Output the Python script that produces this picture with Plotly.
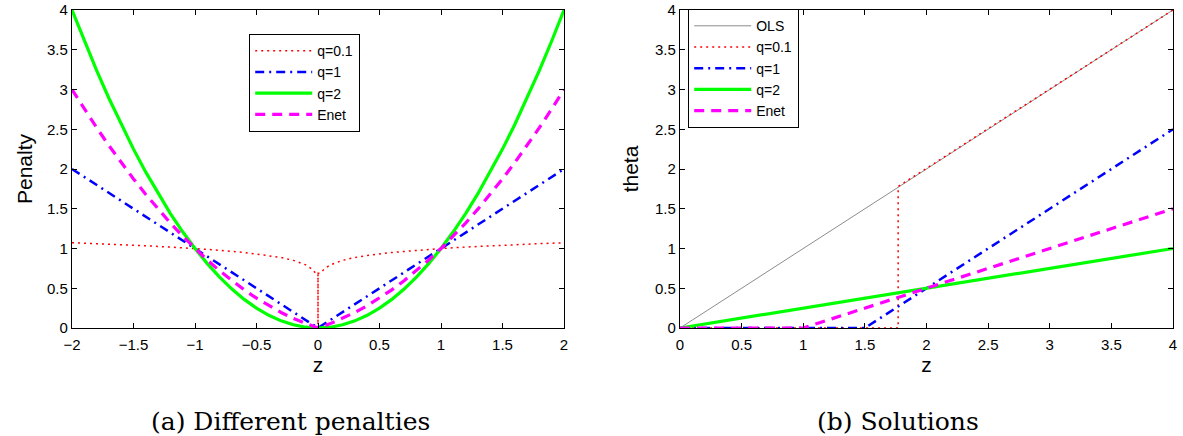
import plotly.graph_objects as go

# ---------- data: left panel (penalties) ----------
z_grid = [-2.0, -1.9, -1.8, -1.7, -1.6, -1.5, -1.4, -1.3, -1.2, -1.1, -1.0,
          -0.9, -0.8, -0.7, -0.6, -0.5, -0.4, -0.3, -0.2, -0.1, 0.0,
          0.1, 0.2, 0.3, 0.4, 0.5, 0.6, 0.7, 0.8, 0.9, 1.0,
          1.1, 1.2, 1.3, 1.4, 1.5, 1.6, 1.7, 1.8, 1.9, 2.0]
pen_q1 = [2.0, 1.9, 1.8, 1.7, 1.6, 1.5, 1.4, 1.3, 1.2, 1.1, 1.0,
          0.9, 0.8, 0.7, 0.6, 0.5, 0.4, 0.3, 0.2, 0.1, 0.0,
          0.1, 0.2, 0.3, 0.4, 0.5, 0.6, 0.7, 0.8, 0.9, 1.0,
          1.1, 1.2, 1.3, 1.4, 1.5, 1.6, 1.7, 1.8, 1.9, 2.0]
pen_q2 = [4.0, 3.61, 3.24, 2.89, 2.56, 2.25, 1.96, 1.69, 1.44, 1.21, 1.0,
          0.81, 0.64, 0.49, 0.36, 0.25, 0.16, 0.09, 0.04, 0.01, 0.0,
          0.01, 0.04, 0.09, 0.16, 0.25, 0.36, 0.49, 0.64, 0.81, 1.0,
          1.21, 1.44, 1.69, 1.96, 2.25, 2.56, 2.89, 3.24, 3.61, 4.0]
pen_enet = [3.0, 2.755, 2.52, 2.295, 2.08, 1.875, 1.68, 1.495, 1.32, 1.155, 1.0,
            0.855, 0.72, 0.595, 0.48, 0.375, 0.28, 0.195, 0.12, 0.055, 0.0,
            0.055, 0.12, 0.195, 0.28, 0.375, 0.48, 0.595, 0.72, 0.855, 1.0,
            1.155, 1.32, 1.495, 1.68, 1.875, 2.08, 2.295, 2.52, 2.755, 3.0]
z_q01 = [-2.0, -1.8, -1.6, -1.4, -1.2, -1.0, -0.8, -0.6, -0.4, -0.3, -0.2, -0.1,
         -0.05, -0.02, 0.0, 0.0, 0.0, 0.02, 0.05, 0.1, 0.2, 0.3, 0.4, 0.6, 0.8,
         1.0, 1.2, 1.4, 1.6, 1.8, 2.0]
pen_q01 = [1.072, 1.061, 1.048, 1.034, 1.018, 1.0, 0.978, 0.950, 0.912, 0.887, 0.851, 0.794,
           0.741, 0.690, 0.690, 0.0, 0.690, 0.690, 0.741, 0.794, 0.851, 0.887, 0.912, 0.950, 0.978,
           1.0, 1.018, 1.034, 1.048, 1.061, 1.072]

# ---------- data: right panel (solutions) ----------
z_ols = [0.0, 4.0]
th_ols = [0.0, 4.0]
z_sq01 = [0.0, 1.77, 1.77, 4.0]
th_sq01 = [0.0, 0.0, 1.78, 4.0]
z_sq1 = [0.0, 1.5, 4.0]
th_sq1 = [0.0, 0.0, 2.5]
z_sq2 = [0.0, 4.0]
th_sq2 = [0.0, 1.0]
z_senet = [0.0, 1.0, 4.0]
th_senet = [0.0, 0.0, 1.5]

left_ticks = [-2, -1.5, -1, -0.5, 0, 0.5, 1, 1.5, 2]
right_ticks = [0, 0.5, 1, 1.5, 2, 2.5, 3, 3.5, 4]
y_ticks = [0, 0.5, 1, 1.5, 2, 2.5, 3, 3.5, 4]

RED = "rgb(255,0,0)"
BLUE = "rgb(0,0,255)"
GREEN = "rgb(0,255,0)"
MAG = "rgb(255,0,255)"
GRAY = "rgb(140,140,140)"
DOT = "2px,4px"
DASHDOT = "9px,5px,2px,5px"
DASH = "10px,7px"

fig = go.Figure()
# left
fig.add_trace(go.Scatter(x=z_q01, y=pen_q01, name="q=0.1", mode="lines",
                         line=dict(color=RED, width=1.5, dash=DOT), xaxis="x", yaxis="y", legend="legend"))
fig.add_trace(go.Scatter(x=z_grid, y=pen_q1, name="q=1", mode="lines",
                         line=dict(color=BLUE, width=2.5, dash=DASHDOT), xaxis="x", yaxis="y", legend="legend"))
fig.add_trace(go.Scatter(x=z_grid, y=pen_q2, name="q=2", mode="lines",
                         line=dict(color=GREEN, width=3.2), xaxis="x", yaxis="y", legend="legend"))
fig.add_trace(go.Scatter(x=z_grid, y=pen_enet, name="Enet", mode="lines",
                         line=dict(color=MAG, width=3.2, dash=DASH), xaxis="x", yaxis="y", legend="legend"))
# right
fig.add_trace(go.Scatter(x=z_ols, y=th_ols, name="OLS", mode="lines",
                         line=dict(color=GRAY, width=1), xaxis="x2", yaxis="y2", legend="legend2"))
fig.add_trace(go.Scatter(x=z_sq01, y=th_sq01, name="q=0.1", mode="lines",
                         line=dict(color=RED, width=1.5, dash=DOT), xaxis="x2", yaxis="y2", legend="legend2"))
fig.add_trace(go.Scatter(x=z_sq1, y=th_sq1, name="q=1", mode="lines",
                         line=dict(color=BLUE, width=2.5, dash=DASHDOT), xaxis="x2", yaxis="y2", legend="legend2"))
fig.add_trace(go.Scatter(x=z_sq2, y=th_sq2, name="q=2", mode="lines",
                         line=dict(color=GREEN, width=3.2), xaxis="x2", yaxis="y2", legend="legend2"))
fig.add_trace(go.Scatter(x=z_senet, y=th_senet, name="Enet", mode="lines",
                         line=dict(color=MAG, width=3.2, dash=DASH), xaxis="x2", yaxis="y2", legend="legend2"))

axis_common = dict(showline=True, linecolor="black", linewidth=1.2, mirror="ticks",
                   ticks="inside", ticklen=5, tickcolor="black", showgrid=False, zeroline=False,
                   automargin=False,
                   tickfont=dict(family="Liberation Sans, Arial", size=15, color="black"))

W, H = 1183, 436
ydom = [(H - 328) / H, (H - 10) / H]
fig.update_layout(
    width=W, height=H, margin=dict(l=0, r=0, t=0, b=0),
    paper_bgcolor="white", plot_bgcolor="white",
    font=dict(family="Liberation Sans, Arial", color="black"),
    xaxis=dict(domain=[72 / W, 564 / W], range=[-2, 2], tickvals=left_ticks, ticklabelstandoff=3,
               title=dict(text="z", font=dict(size=21), standoff=2), anchor="y", **axis_common),
    yaxis=dict(domain=ydom, range=[0, 4], tickvals=y_ticks,
               title=dict(text="Penalty", font=dict(size=21), standoff=8), anchor="x", **axis_common),
    xaxis2=dict(domain=[680 / W, 1173 / W], range=[0, 4], tickvals=right_ticks, ticklabelstandoff=3,
                title=dict(text="z", font=dict(size=21), standoff=2), anchor="y2", **axis_common),
    yaxis2=dict(domain=ydom, range=[0, 4], tickvals=y_ticks,
                title=dict(text="theta", font=dict(size=21), standoff=10), anchor="x2", **axis_common),
    legend=dict(x=249 / W, y=(H - 34) / H, xanchor="left", yanchor="top",
                bordercolor="black", borderwidth=1.2, bgcolor="white",
                font=dict(size=14), itemwidth=57, tracegroupgap=0),
    legend2=dict(x=688 / W, y=(H - 9) / H, xanchor="left", yanchor="top",
                 bordercolor="black", borderwidth=1.2, bgcolor="white",
                 font=dict(size=14), itemwidth=57, tracegroupgap=0),
    annotations=[
        dict(text="(a) Different penalties", x=290 / W, y=(H - 421) / H, xref="paper", yref="paper",
             showarrow=False, font=dict(family="DejaVu Serif", size=25, color="black"), xanchor="center", yanchor="middle"),
        dict(text="(b) Solutions", x=898 / W, y=(H - 421) / H, xref="paper", yref="paper",
             showarrow=False, font=dict(family="DejaVu Serif", size=25, color="black"), xanchor="center", yanchor="middle"),
    ],
)

fig.write_html("out.html", config={"displayModeBar": False},
               post_script="document.body.style.margin='0';document.body.style.overflow='hidden';")
